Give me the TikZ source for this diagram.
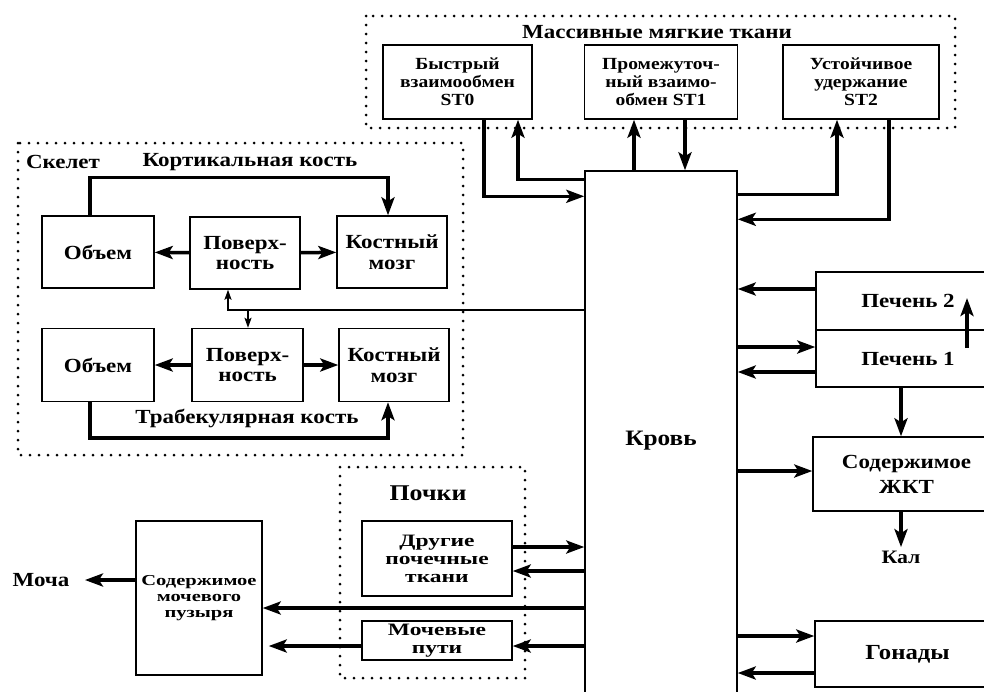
\documentclass[tikz,border=0pt]{standalone}
\usepackage{fontspec}
\setmainfont{Liberation Serif}[FakeStretch=1.15]
\newfontfamily\widerfont{Liberation Serif}[FakeStretch=1.35]
\usetikzlibrary{arrows.meta}

\begin{document}
\begin{tikzpicture}[x=1pt,y=-1pt,
    box/.style={draw, line width=1.4pt, align=center, inner sep=1pt},
    stfont/.style={font=\bfseries\fontsize{17}{18}\selectfont},
    bonefont/.style={font=\bfseries\fontsize{20}{20.5}\selectfont},
    organfont/.style={font=\bfseries\fontsize{20}{25}\selectfont},
    kidneyfont/.style={font=\widerfont\bfseries\fontsize{17.4}{18}\selectfont},
    title/.style={font=\bfseries\fontsize{20}{22}\selectfont},
    flow/.style={line width=3.5pt, -{Stealth[length=18pt,width=13pt,inset=4pt]}},
    thinflow/.style={line width=1.8pt, -{Stealth[length=10pt,width=7pt,inset=2pt]}},
    group/.style={line width=3pt, dash pattern=on 0pt off 9pt, line cap=round}]
\clip (0,0) rectangle (984,691);
% dotted groups
\draw[group] (366,16) rectangle (955,128);
\draw[group] (18,143) rectangle (463,455);
\draw[group] (340,467) rectangle (525,678);
\node[title] (softtitle) at (657,32) {Массивные мягкие ткани};
\node[title] (skeltitle) at (63,162) {Скелет};
\node[title] (cortical) at (250,162) {Кортикальная кость};
\node[title] (trabecular) at (247,418) {Трабекулярная кость};
\node[title, font=\bfseries\fontsize{22.5}{23}\selectfont] (kidneytitle) at (428,493) {Почки};
% soft tissue
\node[box, stfont, minimum width=149, minimum height=74] (st0) at (457.5,82) {Быстрый\\взаимообмен\\ST0};
\node[box, stfont, minimum width=153, minimum height=74] (st1) at (661,82) {Промежуточ-\\ный взаимо-\\обмен ST1};
\node[box, stfont, minimum width=156, minimum height=74] (st2) at (861,82) {Устойчивое\\удержание\\ST2};
% blood
\node[box, font=\bfseries\fontsize{22}{23}\selectfont, minimum width=152, minimum height=540] (blood) at (661,441) {Кровь};
% skeleton
\node[box, bonefont, minimum width=112, minimum height=72] (vol1) at (98,252) {Объем};
\node[box, bonefont, minimum width=110, minimum height=72] (surf1) at (245,253) {Поверх-\\ность};
\node[box, bonefont, minimum width=110, minimum height=72] (marrow1) at (392,252) {Костный\\мозг};
\node[box, bonefont, minimum width=112, minimum height=73] (vol2) at (98,365) {Объем};
\node[box, bonefont, minimum width=111, minimum height=73] (surf2) at (247.5,365) {Поверх-\\ность};
\node[box, bonefont, minimum width=110, minimum height=73] (marrow2) at (394,365) {Костный\\мозг};
\coordinate (bone) at (248,310);
% liver, gut, gonads
\node[box, organfont, minimum width=184, minimum height=58] (liver2) at (908,301) {Печень 2};
\node[box, organfont, minimum width=184, minimum height=57] (liver1) at (908,358.5) {Печень 1};
\node[box, organfont, minimum width=187, minimum height=74] (gut) at (906.5,474) {Содержимое\\ЖКТ};
\node[title, font=\bfseries\fontsize{19}{20}\selectfont] (feces) at (901,557) {Кал};
\node[box, font=\bfseries\fontsize{21.5}{22}\selectfont, minimum width=185, minimum height=66] (gonads) at (907.5,654) {Гонады};
% kidneys and bladder
\node[box, kidneyfont, minimum width=150, minimum height=75] (renal) at (437,558.5) {Другие\\почечные\\ткани};
\node[box, kidneyfont, minimum width=150, minimum height=39] (ureter) at (437,640.5) {Мочевые\\пути};
\node[box, font=\widerfont\bfseries\fontsize{15.2}{16}\selectfont, minimum width=126, minimum height=154] (bladder) at (199,598) {Содержимое\\мочевого\\пузыря};
\node[title] (urine) at (41,580) {Моча};

% soft tissue exchange
\draw[flow] ([yshift=-9pt]blood.north west) -| ([xshift=60.5pt]st0.south);
\draw[flow] ([xshift=26.5pt]st0.south) |- ([yshift=-26pt]blood.north west);
\draw[flow] ([xshift=-27pt]blood.north) -- ([xshift=-27pt]st1.south);
\draw[flow] ([xshift=24pt]st1.south) -- ([xshift=24pt]blood.north);
\draw[flow] ([yshift=-24pt]blood.north east) -| ([xshift=-24pt]st2.south);
\draw[flow] ([xshift=28pt]st2.south) |- ([yshift=-49pt]blood.north east);
% skeleton
\draw[flow] ([xshift=-8pt]vol1.north) -- ++(0,-38) -| ([xshift=-4pt]marrow1.north);
\draw[flow] (surf1) -- (vol1);
\draw[flow] (surf1) -- (marrow1);
\draw[flow] (surf2) -- (vol2);
\draw[flow] (surf2) -- (marrow2);
\draw[flow] ([xshift=-8pt]vol2.south) -- ++(0,36) -| ([xshift=-6pt]marrow2.south);
\draw[thinflow] (blood.west |- bone) -| ([xshift=-17pt]surf1.south);
\draw[thinflow] (bone) -- (bone |- surf2.north);
% liver, gut, gonads
\draw[flow] ([yshift=12pt]liver2.west) -- ([yshift=12pt]liver2.west -| blood.east);
\draw[flow] ([yshift=11.5pt]liver1.west -| blood.east) -- ([yshift=11.5pt]liver1.west);
\draw[flow] ([yshift=-13.5pt]liver1.west) -- ([yshift=-13.5pt]liver1.west -| blood.east);
\draw[flow] ([xshift=59pt,yshift=10.5pt]liver1.center) -- ++(0,-50);
\draw[flow] ([xshift=-7pt]liver1.south) -- ([xshift=-7pt]liver1.south |- gut.north);
\draw[flow] ([yshift=3pt]gut.west -| blood.east) -- ([yshift=3pt]gut.west);
\draw[flow] (gut.south -| feces) -- (feces.north);
\draw[flow] ([yshift=18pt]gonads.west -| blood.east) -- ([yshift=18pt]gonads.west);
\draw[flow] ([yshift=-19pt]gonads.west) -- ([yshift=-19pt]gonads.west -| blood.east);
% kidneys and bladder
\draw[flow] ([yshift=11.5pt]renal.east) -- ([yshift=11.5pt]renal.east -| blood.west);
\draw[flow] ([yshift=-12.5pt]renal.east -| blood.west) -- ([yshift=-12.5pt]renal.east);
\draw[flow] ([yshift=-10pt]bladder.east -| blood.west) -- ([yshift=-10pt]bladder.east);
\draw[flow] ([yshift=-5.5pt]ureter.east -| blood.west) -- ([yshift=-5.5pt]ureter.east);
\draw[flow, shorten >=6pt] ([yshift=-5.5pt]ureter.west) -- ([yshift=-5.5pt]ureter.west -| bladder.east);
\draw[flow, shorten >=12pt] ([yshift=18pt]bladder.west) -- ([yshift=18pt]bladder.west -| urine.east);
\end{tikzpicture}
\end{document}
